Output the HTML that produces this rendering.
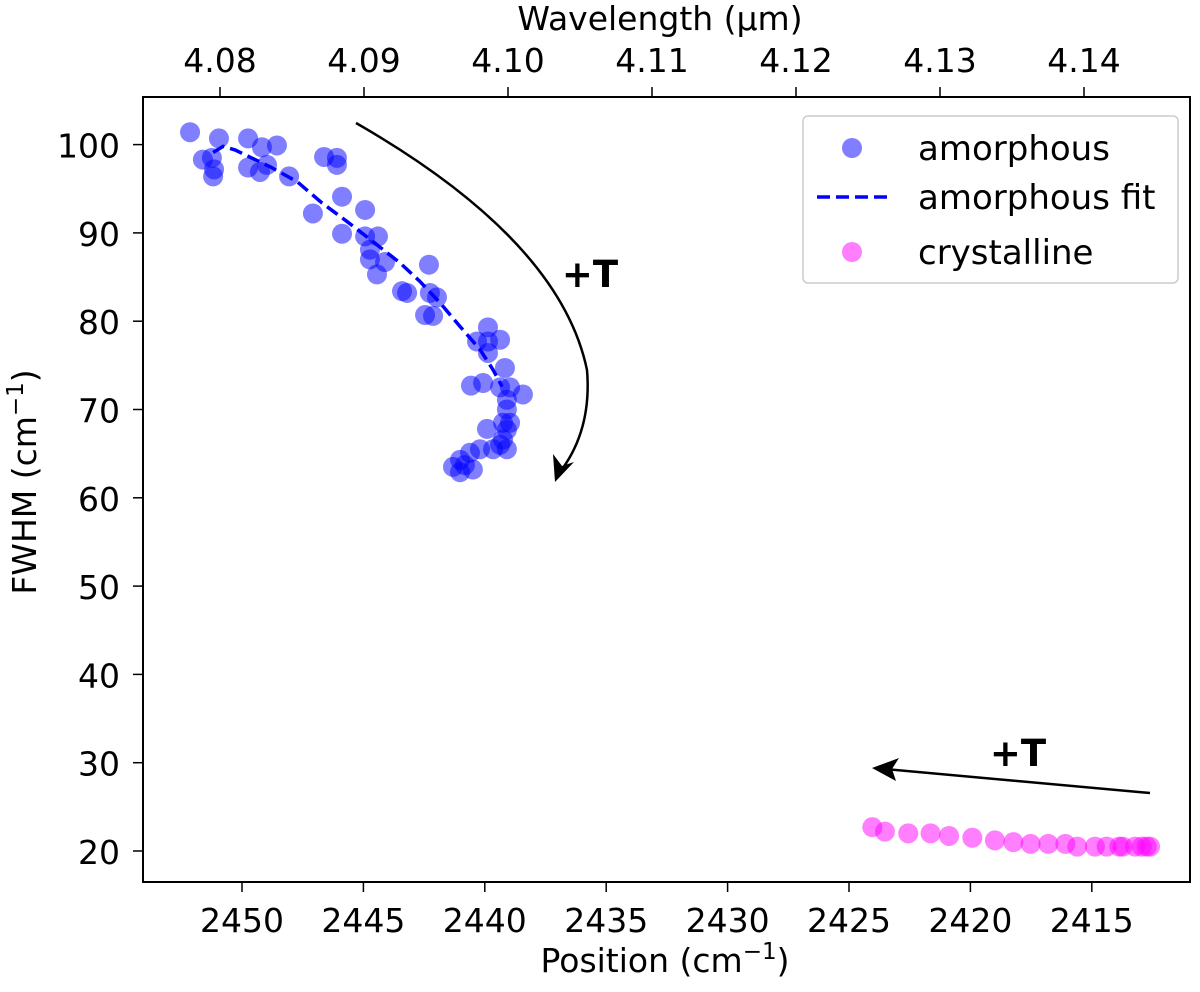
<!DOCTYPE html>
<html><head><meta charset="utf-8"><style>
html,body{margin:0;padding:0;background:#fff;}
svg text{font-family:"DejaVu Sans","Liberation Sans",sans-serif;}
</style></head><body>
<svg id="chart" width="1200" height="987" xmlns="http://www.w3.org/2000/svg">
<rect x="0" y="0" width="1200" height="987" fill="#fff"/>
<g id="marks"></g>
<g id="axes"></g>
<g>
<path d="M356,123 Q560,240 587,370 Q592,430 560,472" fill="none" stroke="#000" stroke-width="2.5"/>
<polygon points="555,482 553,454 562,466 574,462" fill="#000"/>
<text x="590" y="287" font-size="37" font-weight="bold" text-anchor="middle">+T</text>
<line x1="1150" y1="793" x2="885" y2="769" stroke="#000" stroke-width="2.5"/>
<polygon points="872,768 899,758 892,769 896,781" fill="#000"/>
<text x="1018" y="766" font-size="37" font-weight="bold" text-anchor="middle">+T</text>
</g>
<g>
<rect x="803" y="116" width="375" height="167" rx="5" fill="#fff" fill-opacity="0.8" stroke="#ccc" stroke-width="1.5"/>
<circle cx="852" cy="148" r="10" fill="#0000ff" fill-opacity="0.5"/>
<text x="918" y="160" font-size="34">amorphous</text>
<line x1="817" y1="197" x2="888" y2="197" stroke="#0000ff" stroke-width="3.5" stroke-dasharray="13,6"/>
<text x="918" y="209" font-size="34">amorphous fit</text>
<circle cx="852" cy="252" r="10" fill="#ff00ff" fill-opacity="0.5"/>
<text x="918" y="264" font-size="34">crystalline</text>
</g>
</svg>
<script>
const amorphX = [2452.14,2450.95,2449.75,2448.56,2449.18,2451.61,2451.24,2451.19,2451.15,2449.75,2449.26,2448.97,2448.06,2446.62,2446.09,2446.09,2445.88,2444.93,2447.08,2445.88,2444.93,2444.40,2444.73,2444.73,2444.11,2444.44,2442.30,2443.41,2443.20,2442.26,2441.97,2442.46,2442.13,2439.87,2440.32,2439.87,2439.37,2439.87,2439.17,2440.57,2440.07,2439.37,2438.96,2438.43,2439.09,2439.09,2439.25,2439.91,2438.96,2439.25,2439.09,2439.66,2440.20,2440.61,2441.02,2441.31,2441.02,2440.49,2439.09,2439.37,2440.82];
const amorphY = [101.4,100.7,100.7,99.9,99.7,98.3,98.5,96.4,97.2,97.4,96.9,97.7,96.4,98.6,98.5,97.7,94.1,92.6,92.2,89.9,89.6,89.6,88.1,87.0,86.7,85.3,86.4,83.4,83.2,83.2,82.7,80.7,80.6,79.3,77.7,77.7,77.9,76.4,74.7,72.7,73.0,72.5,72.5,71.7,71.1,70.0,68.5,67.8,68.5,66.6,65.5,65.5,65.5,65.1,64.3,63.5,62.9,63.2,67.7,66.0,63.7];
const fitX = [2451.19,2450.78,2450.29,2448.85,2447.73,2446.71,2445.68,2444.60,2443.49,2442.67,2441.85,2441.02,2440.20,2439.66,2439.29];
const fitY = [99.1,99.8,99.4,97.5,95.8,93.4,91.3,89.0,86.6,84.5,82.1,79.4,76.8,74.5,72.6];
const crystX = [2424.04,2423.52,2422.56,2421.64,2420.88,2419.92,2418.99,2418.23,2417.52,2416.79,2416.09,2415.60,2414.87,2414.39,2413.87,2413.73,2413.22,2412.94,2412.74,2412.60];
const crystY = [22.7,22.2,22.0,22.0,21.7,21.5,21.2,21.0,20.8,20.8,20.8,20.5,20.5,20.5,20.5,20.5,20.5,20.5,20.5,20.5];
const xTicks = [2450,2445,2440,2435,2430,2425,2420,2415];
const yTicks = [20,30,40,50,60,70,80,90,100];
const topTicks = ["4.08","4.09","4.10","4.11","4.12","4.13","4.14"];

const L=143,R=1190,T=97,B=882;
function sx(v){return 242+(2450-v)*24.28;}
function sy(v){return 851-(v-20)*8.83;}
function tx(w){return 220+(w-4.08)/0.01*144;}
const NS="http://www.w3.org/2000/svg";
function mk(tag,attrs,parent){const e=document.createElementNS(NS,tag);for(const k in attrs)e.setAttribute(k,attrs[k]);parent.appendChild(e);return e;}
const marks=document.getElementById('marks');
const axes=document.getElementById('axes');

amorphX.forEach((x,i)=>{
  const c=mk('circle',{cx:sx(x),cy:sy(amorphY[i]),r:10,fill:'#0000ff','fill-opacity':0.5},marks);
  
  
});
const fp=mk('path',{d:fitX.map((x,i)=>(i?'L':'M')+sx(x)+','+sy(fitY[i])).join(' '),fill:'none',stroke:'#0000ff','stroke-width':3.5,'stroke-dasharray':'13,6'},marks);


crystX.forEach((x,i)=>{
  const c=mk('circle',{cx:sx(x),cy:sy(crystY[i]),r:10,fill:'#ff00ff','fill-opacity':0.5},marks);
  
  
});

const frame=mk('rect',{x:L,y:T,width:R-L,height:B-T,fill:'none',stroke:'#000','stroke-width':2},axes);


xTicks.forEach(v=>{
  const x=sx(v);
  const t=mk('line',{x1:x,y1:B,x2:x,y2:B+10,stroke:'#000','stroke-width':1.5},axes);
  
  
  const l=mk('text',{x:x,y:932,'font-size':33,'text-anchor':'middle'},axes);
  l.textContent=v;
  
  
});
yTicks.forEach(v=>{
  const y=sy(v);
  const t=mk('line',{x1:L-10,y1:y,x2:L,y2:y,stroke:'#000','stroke-width':1.5},axes);
  
  
  const l=mk('text',{x:120,y:y+13,'font-size':33,'text-anchor':'end'},axes);
  l.textContent=v;
  
  
});
topTicks.forEach(s=>{
  const x=tx(parseFloat(s));
  const t=mk('line',{x1:x,y1:T-10,x2:x,y2:T,stroke:'#000','stroke-width':1.5},axes);
  
  
  const l=mk('text',{x:x,y:72,'font-size':33,'text-anchor':'middle'},axes);
  l.textContent=s;
  
  
});
const xt=mk('text',{x:665,y:972,'font-size':33,'text-anchor':'middle'},axes);
xt.innerHTML='Position (cm<tspan dy="-13" font-size="23">−1</tspan><tspan dy="13">)</tspan>';


const tt=mk('text',{x:660,y:30,'font-size':33,'text-anchor':'middle'},axes);
tt.textContent='Wavelength (µm)';


const yt=mk('text',{x:0,y:0,'font-size':33,'text-anchor':'middle',transform:'translate(36,482) rotate(-90)'},axes);
yt.innerHTML='FWHM (cm<tspan dy="-13" font-size="23">−1</tspan><tspan dy="13">)</tspan>';


</script>
</body></html>
